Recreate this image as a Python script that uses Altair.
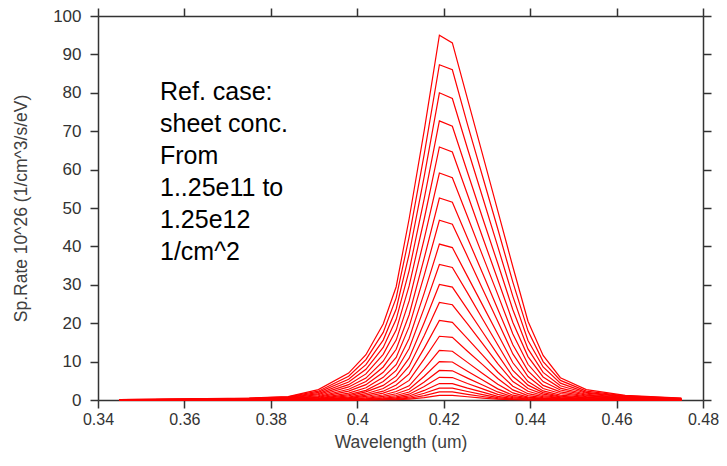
import altair as alt
import pandas as pd

wavelength = [0.345, 0.36, 0.375, 0.384, 0.391, 0.398, 0.402, 0.406, 0.409, 0.412, 0.4155,
              0.419, 0.422, 0.4255, 0.429, 0.4325, 0.436, 0.4395, 0.443, 0.447, 0.453, 0.462, 0.475]

rate_01 = [0.1, 0.3, 0.5, 0.9, 2.7, 7.0, 11.8, 19.8, 29.5, 47.2, 70.3, 95.0, 93.0, 78.4, 63.9, 49.3, 34.7, 20.5, 11.6, 5.8, 2.7, 1.2, 0.5]
rate_02 = [0.09, 0.25, 0.45, 0.8, 2.3, 6.2, 10.5, 17.6, 26.6, 42.5, 64.1, 87.3, 86.0, 71.8, 58.2, 44.6, 30.7, 18.0, 10.0, 5.1, 2.3, 1.06, 0.44]
rate_03 = [0.08, 0.2, 0.4, 0.7, 2.0, 5.4, 9.2, 15.6, 23.7, 38.0, 58.3, 80.0, 78.5, 65.5, 52.8, 40.0, 27.0, 15.5, 8.6, 4.4, 2.0, 0.93, 0.37]
rate_04 = [0.07, 0.2, 0.36, 0.6, 1.65, 4.7, 8.0, 13.7, 21.0, 33.7, 52.5, 72.7, 71.3, 59.3, 47.4, 35.6, 23.5, 13.3, 7.2, 3.7, 1.77, 0.8, 0.31]
rate_05 = [0.06, 0.17, 0.3, 0.5, 1.4, 4.0, 6.8, 11.9, 18.2, 29.7, 47.2, 65.9, 64.6, 53.5, 42.4, 31.4, 20.2, 11.3, 6.0, 3.1, 1.5, 0.69, 0.26]
rate_06 = [0.05, 0.15, 0.28, 0.44, 1.1, 3.4, 5.7, 10.1, 15.6, 25.8, 42.0, 59.1, 57.9, 47.8, 37.6, 27.5, 17.2, 9.3, 4.8, 2.6, 1.27, 0.58, 0.22]
rate_07 = [0.04, 0.12, 0.24, 0.37, 0.9, 2.8, 4.8, 8.6, 13.2, 22.2, 37.0, 52.6, 51.5, 42.2, 33.0, 23.7, 14.4, 7.6, 3.8, 2.1, 1.05, 0.48, 0.18]
rate_08 = [0.03, 0.1, 0.2, 0.3, 0.7, 2.3, 4.0, 7.2, 11.1, 19.1, 32.5, 46.8, 45.8, 37.4, 28.9, 20.5, 12.0, 6.1, 3.0, 1.7, 0.86, 0.4, 0.15]
rate_09 = [0.02, 0.07, 0.16, 0.24, 0.5, 1.8, 3.2, 5.9, 9.2, 16.0, 27.9, 40.6, 39.7, 32.2, 24.7, 17.2, 9.7, 4.8, 2.37, 1.28, 0.68, 0.32, 0.12]
rate_10 = [0.02, 0.04, 0.13, 0.19, 0.35, 1.4, 2.5, 4.8, 7.7, 13.4, 24.0, 35.3, 34.5, 27.9, 21.1, 14.4, 7.7, 3.87, 1.92, 0.98, 0.53, 0.25, 0.1]
rate_11 = [0.015, 0.03, 0.1, 0.16, 0.27, 1.06, 2.1, 3.8, 6.2, 10.9, 20.2, 30.1, 29.4, 23.6, 17.7, 11.8, 6.1, 3.0, 1.52, 0.79, 0.39, 0.19, 0.09]
rate_12 = [0.01, 0.02, 0.08, 0.13, 0.22, 0.76, 1.64, 3.0, 5.0, 8.8, 16.8, 25.4, 24.8, 19.8, 14.7, 9.5, 4.8, 2.29, 1.17, 0.62, 0.31, 0.14, 0.08]
rate_13 = [0.01, 0.02, 0.06, 0.1, 0.17, 0.55, 1.25, 2.3, 3.9, 6.8, 13.5, 20.7, 20.2, 16.0, 11.7, 7.3, 3.6, 1.65, 0.86, 0.47, 0.24, 0.11, 0.06]
rate_14 = [0.01, 0.01, 0.05, 0.08, 0.12, 0.4, 0.92, 1.78, 3.0, 5.1, 10.7, 16.6, 16.3, 12.7, 9.2, 5.6, 2.64, 1.14, 0.61, 0.35, 0.18, 0.08, 0.05]
rate_15 = [0.01, 0.01, 0.03, 0.06, 0.09, 0.28, 0.65, 1.3, 2.2, 3.7, 8.1, 12.9, 12.7, 9.8, 6.9, 4.1, 1.84, 0.77, 0.41, 0.25, 0.13, 0.06, 0.04]
rate_16 = [0.0, 0.01, 0.03, 0.05, 0.06, 0.19, 0.45, 0.93, 1.62, 2.8, 6.2, 10.0, 9.9, 7.5, 5.2, 2.9, 1.25, 0.55, 0.27, 0.17, 0.09, 0.04, 0.03]
rate_17 = [0.0, 0.0, 0.02, 0.03, 0.04, 0.13, 0.3, 0.65, 1.17, 2.07, 4.67, 7.7, 7.6, 5.7, 3.9, 2.1, 0.87, 0.39, 0.2, 0.12, 0.06, 0.03, 0.02]
rate_18 = [0.0, 0.0, 0.01, 0.02, 0.03, 0.08, 0.2, 0.45, 0.83, 1.52, 3.5, 5.9, 5.85, 4.3, 2.9, 1.46, 0.6, 0.26, 0.14, 0.07, 0.04, 0.02, 0.02]
rate_19 = [0.0, 0.0, 0.0, 0.01, 0.02, 0.04, 0.12, 0.3, 0.56, 1.05, 2.49, 4.3, 4.27, 3.1, 2.04, 0.95, 0.38, 0.17, 0.09, 0.05, 0.03, 0.01, 0.01]
rate_20 = [0.0, 0.0, 0.0, 0.0, 0.01, 0.03, 0.08, 0.2, 0.37, 0.71, 1.75, 3.1, 3.09, 2.22, 1.41, 0.62, 0.23, 0.1, 0.06, 0.03, 0.02, 0.01, 0.01]
rate_21 = [0.0, 0.0, 0.0, 0.0, 0.01, 0.02, 0.05, 0.12, 0.23, 0.45, 1.15, 2.1, 2.1, 1.48, 0.91, 0.38, 0.13, 0.06, 0.04, 0.02, 0.01, 0.01, 0.01]
rate_22 = [0.0, 0.0, 0.0, 0.0, 0.0, 0.01, 0.02, 0.06, 0.12, 0.24, 0.63, 1.2, 1.2, 0.84, 0.49, 0.19, 0.07, 0.03, 0.02, 0.01, 0.0, 0.0, 0.0]

curves = [rate_01, rate_02, rate_03, rate_04, rate_05, rate_06, rate_07, rate_08, rate_09, rate_10, rate_11,
          rate_12, rate_13, rate_14, rate_15, rate_16, rate_17, rate_18, rate_19, rate_20, rate_21, rate_22]

x_ticks = [0.34, 0.36, 0.38, 0.40, 0.42, 0.44, 0.46, 0.48]
y_ticks = [0, 10, 20, 30, 40, 50, 60, 70, 80, 90, 100]

annotation = "Ref. case:\nsheet conc.\nFrom\n1..25e11 to\n1.25e12\n1/cm^2"

rows = []
for i, c in enumerate(curves):
    for w, r in zip(wavelength, c):
        rows.append({"curve": f"c{i + 1:02d}", "wavelength": w, "rate": r})
df = pd.DataFrame(rows)

xscale = alt.Scale(domain=[0.34, 0.48], nice=False, zero=False)
yscale = alt.Scale(domain=[0, 100], nice=False)

lines = alt.Chart(df).mark_line(color="#ff0000", strokeWidth=1.2).encode(
    x=alt.X("wavelength:Q", scale=xscale,
            axis=alt.Axis(orient="bottom", values=x_ticks, format=".2~f", labelFlush=False,
                          labelFontSize=16, title="Wavelength (um)", labelPadding=3, titlePadding=6)),
    y=alt.Y("rate:Q", scale=yscale,
            axis=alt.Axis(orient="left", values=y_ticks, title="Sp.Rate 10^26 (1/cm^3/s/eV)",
                          labelPadding=9, titlePadding=22)),
    detail="curve:N",
)

frame = alt.Chart(df).mark_line(opacity=0).encode(
    x=alt.X("wavelength:Q", scale=xscale,
            axis=alt.Axis(orient="top", values=x_ticks, labels=False, title="")),
    y=alt.Y("rate:Q", scale=yscale,
            axis=alt.Axis(orient="right", values=y_ticks, labels=False, title="")),
    detail="curve:N",
)

note = alt.Chart(pd.DataFrame({"t": [annotation]})).mark_text(
    align="left", baseline="top", lineBreak="\n", lineHeight=32,
    fontSize=25, font="Liberation Sans", color="#000000",
).encode(x=alt.value(62), y=alt.value(64), text="t:N")

chart = alt.layer(lines, frame, note).resolve_axis(
    x="independent", y="independent"
).properties(
    width=605, height=384,
    padding={"left": 90, "top": 8, "right": 16, "bottom": 58},
    autosize=alt.AutoSizeParams(type="none"),
).configure_axis(
    grid=False,
    domainColor="#333333", domainWidth=1.5,
    tickColor="#333333", tickWidth=1.5, tickSize=8,
    labelFont="Liberation Sans", labelFontSize=17, labelColor="#333333",
    titleFont="Liberation Sans", titleFontSize=17.5, titleFontWeight="normal", titleColor="#404040",
).configure_view(stroke=None)

chart.save("out.html", embed_options={"renderer": "svg", "actions": False})
